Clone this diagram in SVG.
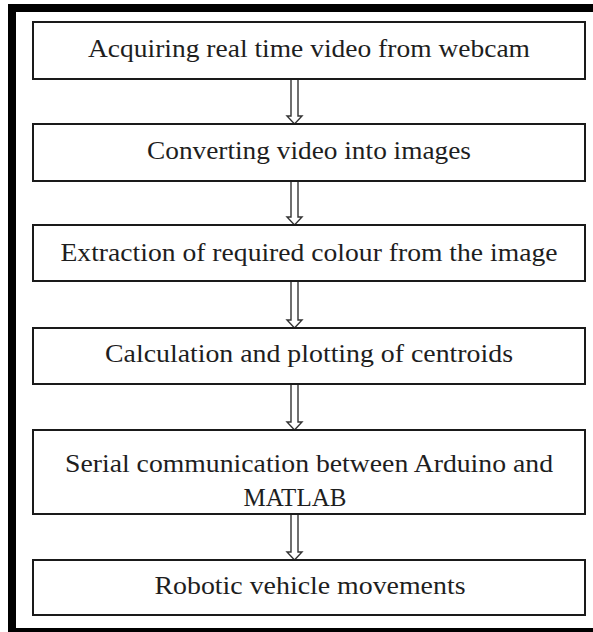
<svg xmlns="http://www.w3.org/2000/svg" width="593" height="632" viewBox="0 0 593 632">
  <style>
    .box { fill: #ffffff; stroke: #1a1a1a; stroke-width: 2; }
    .label { font-family: "Liberation Serif", "Times New Roman", serif; font-size: 25px; fill: #1e1e1e; text-anchor: middle; }
    .arrow { fill: #ffffff; stroke: #333333; stroke-width: 1.4; stroke-linejoin: miter; }
  </style>

  <rect x="0" y="0" width="593" height="632" fill="#ffffff"/>
  <!-- heavy outer frame (right edge runs past the canvas) -->
  <rect x="12" y="8" width="600" height="624" fill="none" stroke="#000000" stroke-width="8"/>

  <!-- hollow double-line down arrows between steps -->
  <g id="connectors">
    <path class="arrow" d="M291,79 V116 H287 L294.5,124 L302,116 H298 V79 Z"/>
    <path class="arrow" d="M291,181 V217 H287 L294.5,225 L302,217 H298 V181 Z"/>
    <path class="arrow" d="M291,281 V320 H287 L294.5,328 L302,320 H298 V281 Z"/>
    <path class="arrow" d="M291,384 V422 H287 L294.5,430 L302,422 H298 V384 Z"/>
    <path class="arrow" d="M291,514 V552 H287 L294.5,560 L302,552 H298 V514 Z"/>
  </g>

  <g id="step-acquire">
    <rect class="box" x="33" y="22" width="552" height="57"/>
    <text class="label" x="309" y="57" textLength="442" lengthAdjust="spacingAndGlyphs">Acquiring real time video from webcam</text>
  </g>

  <g id="step-convert">
    <rect class="box" x="33" y="124" width="552" height="57"/>
    <text class="label" x="309" y="159" textLength="324" lengthAdjust="spacingAndGlyphs">Converting video into images</text>
  </g>

  <g id="step-extract">
    <rect class="box" x="33" y="225" width="552" height="56"/>
    <text class="label" x="309" y="261" textLength="497" lengthAdjust="spacingAndGlyphs">Extraction of required colour from the image</text>
  </g>

  <g id="step-centroids">
    <rect class="box" x="33" y="328" width="552" height="56"/>
    <text class="label" x="309" y="362" textLength="408" lengthAdjust="spacingAndGlyphs">Calculation and plotting of centroids</text>
  </g>

  <g id="step-serial">
    <rect class="box" x="33" y="430" width="552" height="84"/>
    <text class="label" x="309" y="472" textLength="488" lengthAdjust="spacingAndGlyphs">Serial communication between Arduino and</text>
    <text class="label" x="295" y="506">MATLAB</text>
  </g>

  <g id="step-vehicle">
    <rect class="box" x="33" y="560" width="552" height="55"/>
    <text class="label" x="310" y="594" textLength="311" lengthAdjust="spacingAndGlyphs">Robotic vehicle movements</text>
  </g>
</svg>
